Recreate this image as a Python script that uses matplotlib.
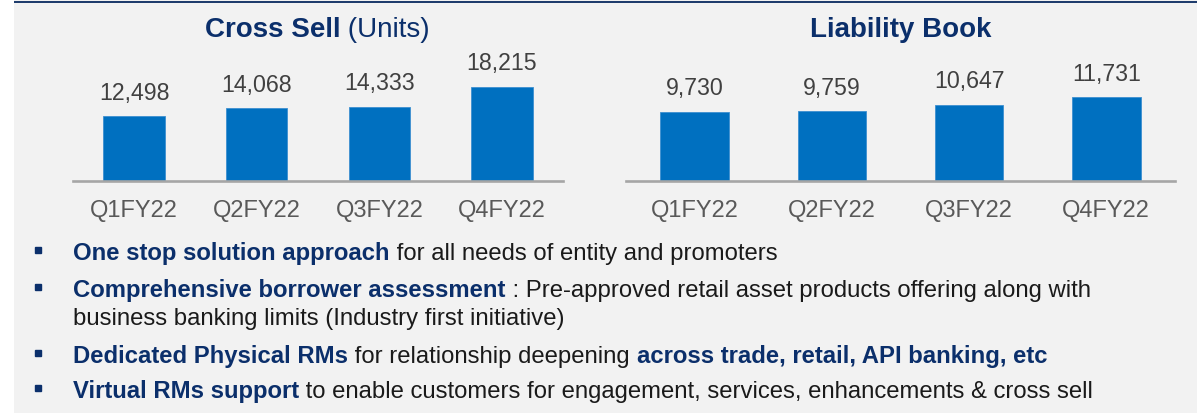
import matplotlib.pyplot as plt
from matplotlib.patches import Rectangle

plt.rcParams['font.family'] = ['Liberation Sans', 'DejaVu Sans']

# ---------- data ----------
quarters = ["Q1FY22", "Q2FY22", "Q3FY22", "Q4FY22"]
cross_sell = [12498, 14068, 14333, 18215]
liability_book = [9730, 9759, 10647, 11731]

cross_title = [("Cross Sell", True), (" (Units)", False)]
liab_title = [("Liability Book", True)]

# each bullet: list of lines, each line a list of (text, bold)
bullets = [
    [[("One stop solution approach", True), (" for all needs of entity and promoters", False)]],
    [[("Comprehensive borrower assessment", True),
      (" : Pre-approved retail asset products offering along with", False)],
     [("business banking limits (Industry first initiative)", False)]],
    [[("Dedicated Physical RMs", True), (" for relationship deepening ", False),
      ("across trade, retail, API banking, etc", True)]],
    [[("Virtual RMs support", True),
      (" to enable customers for engagement, services, enhancements & cross sell", False)]],
]

# ---------- styles ----------
W, H = 1197, 413
NAVY = "#0b2f6b"
BAR = "#0070c0"
BG = "#f2f2f2"

fig = plt.figure(figsize=(W / 100, H / 100), dpi=100)
fig.patch.set_facecolor("white")

# overlay axes in pixel coordinates (y down)
ov = fig.add_axes([0, 0, 1, 1], zorder=0)
ov.set_xlim(0, W)
ov.set_ylim(H, 0)
ov.axis("off")
ov.add_patch(Rectangle((14, 0), W - 14, H, facecolor=BG, edgecolor="none"))
ov.add_patch(Rectangle((14, 1), W - 14, 2.4, facecolor="#1f3d6d", edgecolor="none"))

renderer = fig.canvas.get_renderer()


def text_width(s, **kw):
    # measure with a guard glyph so trailing spaces count
    t1 = ov.text(0, 0, s + "|", **kw)
    t2 = ov.text(0, 0, "|", **kw)
    w = t1.get_window_extent(renderer).width - t2.get_window_extent(renderer).width
    t1.remove()
    t2.remove()
    return w


def draw_runs(x, y, runs, size, colors, center=False):
    kws = []
    widths = []
    for s, bold in runs:
        kw = dict(fontsize=size, fontweight="bold" if bold else "normal",
                  color=colors[0] if bold else colors[1])
        kws.append(kw)
        widths.append(text_width(s, **kw))
    cur = x - sum(widths) / 2 if center else x
    for (s, bold), kw, w in zip(runs, kws, widths):
        ov.text(cur, y, s, ha="left", va="baseline", **kw)
        cur += w


def bar_panel(x0, x1, values, ytop):
    bottom = H - 181
    ax = fig.add_axes([x0 / W, bottom / H, (x1 - x0) / W, 130 / H], zorder=1)
    ax.set_facecolor("none")
    pos = range(len(values))
    ax.bar(pos, values, width=0.5, color=BAR, edgecolor="#3d8fd0", linewidth=0.6)
    ax.set_xlim(-0.5, len(values) - 0.5)
    ax.set_ylim(0, ytop)
    for i, v in zip(pos, values):
        ax.annotate(f"{v:,}", xy=(i, v), xytext=(0, 12), textcoords="offset points",
                    ha="center", va="baseline", fontsize=16.7, color="#404040")
    for s in ["top", "left", "right"]:
        ax.spines[s].set_visible(False)
    ax.spines["bottom"].set_color("#a6a6a6")
    ax.spines["bottom"].set_linewidth(1.9)
    ax.set_yticks([])
    ax.set_xticks(list(pos))
    ax.set_xticklabels(quarters, fontsize=17, color="#595959")
    ax.tick_params(axis="x", length=0, pad=14)
    return ax


bar_panel(72.7, 563.3, cross_sell, 130 / 0.00517)
bar_panel(626, 1174.8, liability_book, 130 / 0.00714)

draw_runs(317.5, 37, cross_title, 20, (NAVY, NAVY), center=True)
draw_runs(900.4, 37, liab_title, 20, (NAVY, NAVY), center=True)

# bullet list
line_y = [[260], [296.7, 325], [363.3], [398.3]]
for lines, ys in zip(bullets, line_y):
    ov.plot(37.5, ys[0] - 10, marker="s", ms=4.6, color=NAVY, linestyle="none")
    for runs, y in zip(lines, ys):
        draw_runs(73.3, y, runs, 17.2, (NAVY, "#1a1a1a"))

fig.savefig("out.png", dpi=100, facecolor=fig.get_facecolor())
